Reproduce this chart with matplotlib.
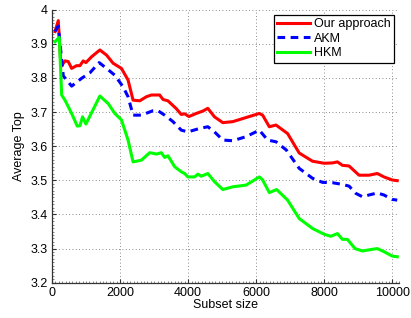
import numpy as np
import matplotlib.pyplot as plt
from matplotlib.ticker import MultipleLocator

plt.rcParams['font.family'] = ['Liberation Sans', 'DejaVu Sans']

# ---------------- data ----------------
x_ours = [88, 185, 264, 381, 478, 577, 723, 820, 917, 996, 1162, 1406, 1602, 1796,
          2040, 2234, 2381, 2577, 2773, 2919, 3163, 3260, 3406, 3651, 3797, 3895,
          4021, 4237, 4432, 4577, 4773, 5017, 5310, 5700, 6090, 6187, 6383, 6579,
          6920, 7261, 7651, 7993, 8237, 8383, 8530, 8725, 9018, 9310, 9554, 9750,
          9993, 10140]
y_ours = [3.936, 3.968, 3.833, 3.850, 3.848, 3.828, 3.836, 3.836, 3.850, 3.845,
          3.862, 3.882, 3.867, 3.843, 3.828, 3.794, 3.735, 3.733, 3.745, 3.750,
          3.750, 3.737, 3.733, 3.710, 3.693, 3.695, 3.687, 3.696, 3.703, 3.711,
          3.686, 3.669, 3.672, 3.684, 3.696, 3.691, 3.657, 3.662, 3.637, 3.580,
          3.556, 3.550, 3.551, 3.554, 3.544, 3.542, 3.515, 3.515, 3.520, 3.510,
          3.501, 3.499]

x_akm = [88, 185, 331, 430, 577, 870, 1113, 1385, 1602, 1845, 2088, 2234, 2381,
         2626, 2967, 3113, 3309, 3553, 3797, 3992, 4334, 4577, 4773, 5017, 5310,
         5700, 6090, 6334, 6579, 6880, 7261, 7651, 7944, 8237, 8530, 8725, 8920,
         9115, 9310, 9554, 9750, 9993, 10140]
y_akm = [3.936, 3.952, 3.806, 3.794, 3.776, 3.799, 3.815, 3.845, 3.828, 3.808,
         3.774, 3.745, 3.691, 3.691, 3.704, 3.704, 3.691, 3.672, 3.647, 3.642,
         3.652, 3.657, 3.642, 3.618, 3.616, 3.628, 3.647, 3.618, 3.613, 3.589,
         3.535, 3.506, 3.494, 3.493, 3.488, 3.483, 3.462, 3.452, 3.457, 3.463,
         3.457, 3.444, 3.442]

x_hkm = [88, 214, 284, 381, 577, 741, 820, 898, 996, 1162, 1406, 1650, 1845, 2040,
         2234, 2381, 2626, 2870, 3065, 3211, 3309, 3406, 3602, 3797, 3895, 3992,
         4187, 4285, 4383, 4577, 4773, 5017, 5310, 5700, 6090, 6187, 6383, 6598,
         6920, 7261, 7651, 7993, 8188, 8383, 8530, 8676, 8901, 9115, 9359, 9554,
         9750, 9993, 10140]
y_hkm = [3.906, 3.919, 3.750, 3.735, 3.696, 3.659, 3.660, 3.686, 3.665, 3.698,
         3.747, 3.725, 3.696, 3.677, 3.618, 3.554, 3.559, 3.581, 3.577, 3.581,
         3.567, 3.572, 3.540, 3.525, 3.520, 3.510, 3.510, 3.518, 3.512, 3.520,
         3.496, 3.473, 3.481, 3.486, 3.510, 3.501, 3.464, 3.473, 3.442, 3.388,
         3.359, 3.342, 3.336, 3.344, 3.327, 3.327, 3.300, 3.293, 3.297, 3.300,
         3.291, 3.278, 3.276]

labels = ['Our approach', 'AKM', 'HKM']
x_ticks = [0, 2000, 4000, 6000, 8000, 10000]
y_ticks = [3.2, 3.3, 3.4, 3.5, 3.6, 3.7, 3.8, 3.9, 4.0]
y_ticklabels = ['3.2', '3.3', '3.4', '3.5', '3.6', '3.7', '3.8', '3.9', '4']
# -------------------------------------------------------------

fig = plt.figure(figsize=(4.11, 3.18), dpi=100)
ax = fig.add_axes([0.1265, 0.111, 0.845, 0.8585])

ax.plot(x_ours, y_ours, color='#ff0000', lw=2.2, label=labels[0])
ax.plot(x_akm, y_akm, color='#0000ff', lw=2.2, dashes=(2.5, 1.8), label=labels[1])
ax.plot(x_hkm, y_hkm, color='#00ff00', lw=2.2, label=labels[2])

ax.set_xlim(0, 10200)
ax.set_ylim(3.2, 4.0)
ax.set_xticks(x_ticks)
ax.set_xticklabels([str(v) for v in x_ticks])
ax.set_yticks(y_ticks)
ax.set_yticklabels(y_ticklabels)
ax.xaxis.set_minor_locator(MultipleLocator(100))
ax.yaxis.set_minor_locator(MultipleLocator(0.01))
ax.tick_params(direction='in', labelsize=9, length=3, pad=3, color='#333333')
ax.tick_params(which='minor', direction='in', length=1.5, width=0.5, color='#555555')
ax.grid(True, linestyle=(0, (1, 3)), color='#666666', lw=0.6)
ax.spines['top'].set_visible(False)
ax.spines['right'].set_visible(False)
for s in ['left', 'bottom']:
    ax.spines[s].set_linewidth(0.9)
    ax.spines[s].set_color('#333333')

ax.set_xlabel('Subset size', fontsize=9, labelpad=0)
ax.set_ylabel('Average Top', fontsize=9, labelpad=4)

leg = ax.legend(loc='upper right', bbox_to_anchor=(0.985, 0.982), fontsize=9,
                fancybox=False, framealpha=1, edgecolor='black', borderaxespad=0,
                handlelength=2.6, handletextpad=0.3, borderpad=0.3, labelspacing=0.2)
leg.get_frame().set_linewidth(0.9)

fig.savefig('out.png', dpi=100)
